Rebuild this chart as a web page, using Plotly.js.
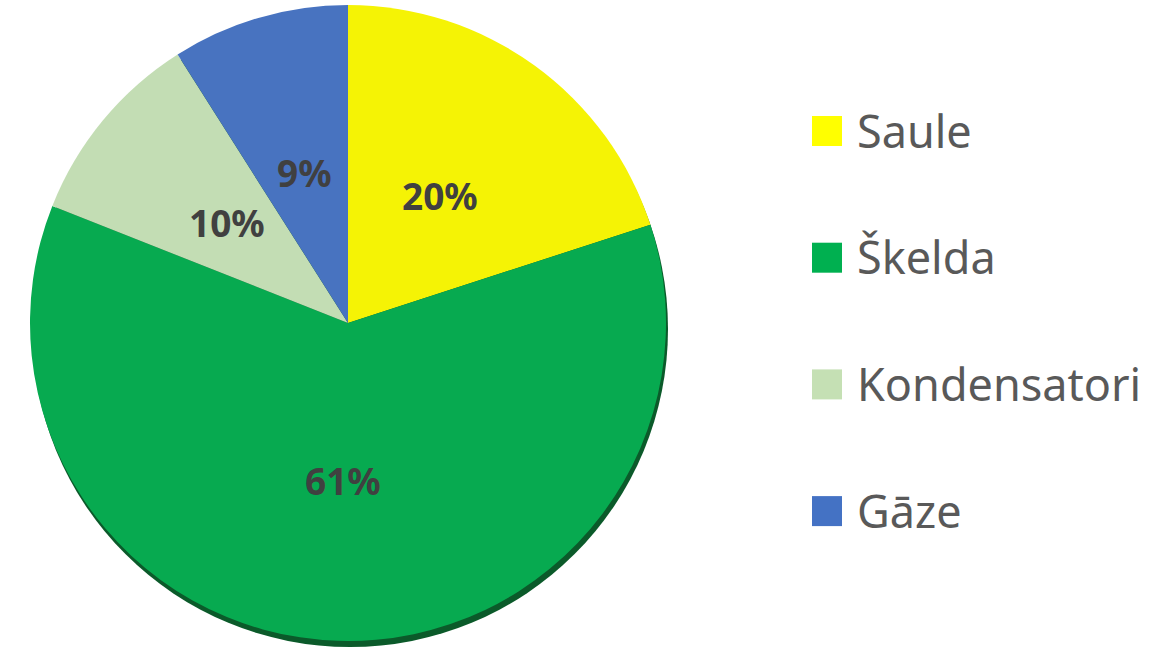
<!DOCTYPE html>
<html>
<head>
<meta charset="utf-8">
<script src="https://cdn.plot.ly/plotly-3.0.1.min.js"></script>
<style>html,body{margin:0;padding:0;background:#fff;}#chart{width:1152px;height:661px;}</style>
</head>
<body>
<div id="chart"></div>
<script>
const labels = ["Saule", "Škelda", "Kondensatori", "Gāze"];
const values = [20, 61, 10, 9];
const sliceColors = ["#F5F305", "#07AA50", "#C3DDB4", "#4873C0"];
const legendColors = ["#FFFF00", "#00B050", "#C5E0B4", "#4472C4"];

const W = 1152, H = 661;
const cx = 348, cy = 323, r = 318;

const trace = {
  type: "pie",
  labels: labels,
  values: values,
  sort: false,
  direction: "clockwise",
  rotation: 0,
  marker: { colors: sliceColors, line: { width: 0 } },
  textinfo: "none",
  hoverinfo: "label+percent",
  domain: { x: [(cx - r) / W, (cx + r) / W], y: [(H - cy - r) / H, (H - cy + r) / H] },
  showlegend: false
};

const shapes = [
  { type: "circle", xref: "paper", yref: "paper", layer: "below",
    x0: (cx - r + 2) / W, x1: (cx + r + 2) / W, y0: (H - cy - r - 6) / H, y1: (H - cy + r - 6) / H,
    fillcolor: "#0B5A2A", line: { width: 0 } }
];
const annotations = [];

// percentage labels placed along each slice's bisector (derived from values)
const total = values.reduce((a, b) => a + b, 0);
let cum = 0;
values.forEach((v, i) => {
  const mid = (cum + v / 2) / total * 2 * Math.PI;
  cum += v;
  const rr = 0.494 * r;
  const px = cx + rr * Math.sin(mid);
  const py = cy - rr * Math.cos(mid);
  annotations.push({ xref: "paper", yref: "paper", x: px / W, y: 1 - py / H,
    xanchor: "center", yanchor: "middle", showarrow: false,
    text: "<b>" + Math.round(v / total * 100) + "%</b>",
    font: { family: "Noto Sans", size: 37, color: "#404040" } });
});

const legStartY = 131, legStep = 126.7;
labels.forEach((lab, i) => {
  const yc = legStartY + i * legStep;
  shapes.push({ type: "rect", xref: "paper", yref: "paper",
    x0: 812 / W, x1: 842 / W, y0: 1 - (yc + 15) / H, y1: 1 - (yc - 15) / H,
    fillcolor: legendColors[i], line: { width: 0 } });
  annotations.push({ xref: "paper", yref: "paper", x: 855 / W, y: 1 - (yc - 1) / H,
    xanchor: "left", yanchor: "middle", showarrow: false, text: lab,
    font: { family: "Noto Sans", size: 45, color: "#595959" } });
});

const layout = {
  width: W, height: H,
  margin: { l: 0, r: 0, t: 0, b: 0 },
  paper_bgcolor: "#ffffff",
  showlegend: false,
  shapes: shapes,
  annotations: annotations
};
Plotly.newPlot("chart", [trace], layout, { displayModeBar: false, staticPlot: true });
</script>
</body>
</html>
